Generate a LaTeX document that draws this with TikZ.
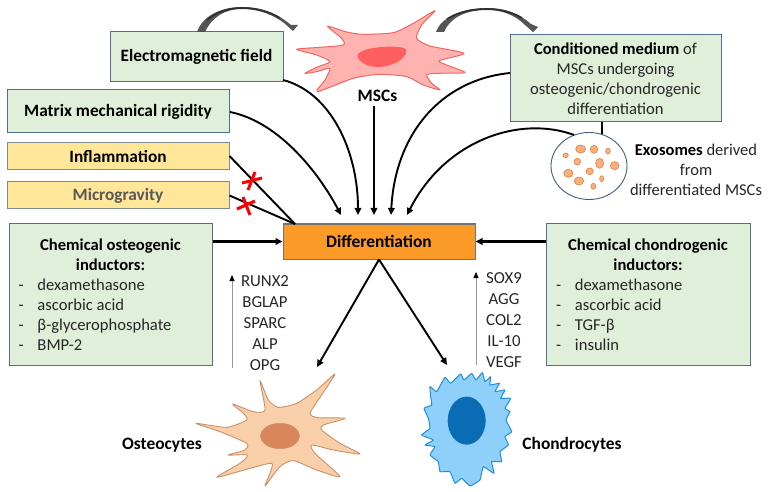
\documentclass[tikz,border=0pt]{standalone}
\usepackage{fontspec}
\setmainfont{Carlito}
\usetikzlibrary{arrows.meta,shapes.geometric}
\definecolor{boxgreen}{HTML}{E0EFD9}
\definecolor{boxedge}{HTML}{4F6F8C}
\definecolor{boxyellow}{HTML}{FFE699}
\definecolor{yellowedge}{HTML}{7F8C8D}
\definecolor{difforange}{HTML}{FB9A26}
\definecolor{inktext}{HTML}{262626}
\definecolor{mscbody}{HTML}{FFB3B0}
\definecolor{mscedge}{HTML}{F2665F}
\definecolor{mscnuc}{HTML}{FF5F5F}
\definecolor{ostbody}{HTML}{F8CFA8}
\definecolor{ostedge}{HTML}{C9916A}
\definecolor{ostnuc}{HTML}{D9875A}
\definecolor{chbody}{HTML}{8ED0FA}
\definecolor{chedge}{HTML}{1E90D8}
\definecolor{chnuc}{HTML}{0A6CB4}
\definecolor{vesfill}{HTML}{F6B183}
\definecolor{vesedge}{HTML}{ED7D31}
\definecolor{roundedge}{HTML}{44607A}
\definecolor{swoopdark}{HTML}{2E2E2E}
\definecolor{swoophead}{HTML}{555555}
\tikzset{
  x=1pt,y=-1pt,
  txt/.style={font=\fontsize{16.5}{20}\selectfont,text=inktext,align=center,inner sep=0pt},
  labelbold/.style={txt,font=\fontsize{17.4}{20}\selectfont\bfseries,text=black},
  greenbox/.style={draw=boxedge,line width=1pt,fill=boxgreen,inner sep=0pt,align=center,text=inktext,
    font=\fontsize{16.6}{20}\selectfont},
  titlebox/.style={greenbox,font=\fontsize{17.3}{20}\selectfont\bfseries,text=black},
  yellowbox/.style={draw=yellowedge,line width=1pt,fill=boxyellow,inner sep=0pt,align=center,
    font=\fontsize{17.3}{20}\selectfont\bfseries},
  flow/.style={draw=black,line width=1.9pt,-{Triangle[length=7pt,width=6.5pt]}},
  sideflow/.style={flow,line width=2.4pt},
  plainlink/.style={draw=black,line width=1.9pt},
  upmark/.style={draw=gray!80,line width=.9pt,-{Triangle[length=6pt,width=5pt,color=black]}},
  cross/.style={draw=red,line width=3pt},
  vesicle/.style={fill=vesfill,draw=vesedge,line width=.6pt},
}
\newcommand{\listline}[1]{\makebox[184pt][l]{\makebox[19pt][l]{-}#1}}
\newcommand{\boldpart}[1]{{\bfseries\color{black}#1}}
\begin{document}
\begin{tikzpicture}
\useasboundingbox (0,0) rectangle (769,492);

% Mesenchymal stem cell
\begin{scope}[shift={(280,10)},x=.3333pt,y=-.3333pt]
  \filldraw[fill=mscbody,draw=mscedge,line width=1pt,line join=round]
    plot[smooth cycle,tension=.4] coordinates {
      (143,49)(200,66)(250,73)(340,68)(400,40)(465,2)(425,45)(410,85)(450,108)(552,130)
      (478,152)(500,165)(555,188)(470,190)(440,195)(455,220)(480,240)(430,225)(380,200)(300,193)
      (220,205)(112,245)(135,210)(150,175)(110,185)(75,190)(110,172)(150,155)(110,135)(50,118)
      (120,112)(190,105)(185,85)};
  \fill[mscnuc] plot[smooth cycle,tension=.6] coordinates {
      (232,138)(262,118)(330,110)(378,118)(362,150)(310,170)(260,165)};
\end{scope}

% Osteocyte
\begin{scope}[shift={(190,370)},x=.3333pt,y=-.3333pt]
  \filldraw[fill=ostbody,draw=ostedge,line width=.9pt,line join=round]
    plot[smooth cycle,tension=.4] coordinates {
      (210,32)(235,90)(265,112)(320,100)(380,60)(435,12)(395,75)(360,130)(385,143)(465,145)
      (400,165)(395,180)(450,220)(510,252)(430,240)(365,225)(375,250)(450,320)(380,300)(310,272)
      (270,290)(225,348)(240,310)(245,280)(180,295)(80,322)(150,280)(172,255)(115,255)(165,240)
      (170,220)(90,185)(18,160)(110,172)(170,150)(160,130)(128,102)(190,125)(225,120)};
  \filldraw[fill=ostnuc,draw=ostedge,line width=.6pt] (270,198) ellipse [x radius=58,y radius=38];
\end{scope}

% Chondrocyte
\begin{scope}[shift={(400,330)},x=.3333pt,y=-.3333pt]
  \filldraw[fill=chbody,draw=chedge,line width=1pt,line join=round]
    plot[smooth cycle,tension=.2] coordinates {
      (90,170)(110,185)(135,142)(152,160)(182,132)(192,150)(215,130)(228,150)(247,128)(255,155)
      (272,140)(270,165)(298,160)(285,185)(315,180)(302,205)(332,205)(315,235)(330,245)(318,270)
      (335,305)(315,320)(325,345)(300,365)(305,395)(275,395)(282,430)(250,410)(240,450)(210,468)
      (185,445)(165,460)(150,425)(120,425)(115,395)(90,375)(105,350)(75,345)(100,330)(65,315)
      (90,295)(85,265)(72,235)(95,225)(92,200)};
  \fill[chnuc] (200,272) ellipse [x radius=57,y radius=72];
\end{scope}

% Stimulus and outcome boxes
\node[titlebox,minimum width=173pt,minimum height=50pt] (em) at (196.5,57) {Electromagnetic field};
\node[titlebox,minimum width=222pt,minimum height=43pt] (matrix) at (118,111.5) {Matrix mechanical rigidity};
\node[yellowbox,minimum width=222pt,minimum height=27pt,text=black] (infl) at (118,156) {Inflammation};
\node[yellowbox,minimum width=222pt,minimum height=27pt,text=black!65] (micro) at (118,195.5) {Microgravity};
\node[greenbox,minimum width=203pt,minimum height=142pt] (osteo) at (110.5,294.5)
  {\boldpart{Chemical osteogenic}\\\boldpart{inductors:}\\
   \listline{dexamethasone}\\\listline{ascorbic acid}\\\listline{β-glycerophosphate}\\\listline{BMP-2}};
\node[greenbox,minimum width=204pt,minimum height=142pt] (chondro) at (648,294.5)
  {\boldpart{Chemical chondrogenic}\\\boldpart{inductors:}\\
   \listline{dexamethasone}\\\listline{ascorbic acid}\\\listline{TGF-β}\\\listline{insulin}};
\node[greenbox,minimum width=211pt,minimum height=87pt] (cond) at (615.5,78.5)
  {\boldpart{Conditioned medium} of\\MSCs undergoing\\osteogenic/chondrogenic\\differentiation};
\node[draw=gray!90!black,line width=1pt,fill=difforange,minimum width=192pt,minimum height=35pt,inner sep=0pt,
  font=\fontsize{17.4}{20}\selectfont\bfseries,text=black] (diff) at (379,241.5) {Differentiation};

% Exosome vesicle
\node[draw=roundedge,fill=white,line width=.9pt,ellipse,inner sep=0pt,minimum width=76pt,minimum height=67pt] (exo) at (589,166) {};
\begin{scope}[shift={(384,0)},x=.3333pt,y=-.3333pt]
  \foreach \cx/\cy/\rx/\ry in {590/447/15/12,630/448/11/12,672/453/7/9,545/466/8/7,580/485/10/10,
      647/490/12/15,692/497/13/12,553/520/14/12,617/514/11/10,585/543/14/12,653/536/6/9,628/559/7/9}
    \draw[vesicle] (\cx,\cy) ellipse [x radius=\rx,y radius=\ry];
\end{scope}

% Labels
\node[labelbold] (msclabel) at (377.5,96) {MSCs};
\node[txt] (exolabel) at (696,170) {\boldpart{Exosomes} derived\\from\\differentiated MSCs};
\node[labelbold] (ostlabel) at (162,445) {Osteocytes};
\node[labelbold] (chlabel) at (572,445) {Chondrocytes};
\node[txt,font=\fontsize{16.8}{21}\selectfont] (ostgenes) at (265,323) {RUNX2\\BGLAP\\SPARC\\ALP\\OPG};
\node[txt,font=\fontsize{16.8}{21}\selectfont] (chgenes) at (504,320) {SOX9\\AGG\\COL2\\IL-10\\VEGF};

% Free ends of the connectors
\coordinate (emend) at (358,215);
\coordinate (matend) at (341,215);
\coordinate (mscstart) at (374,106);
\coordinate (mscend) at (374,215);
\coordinate (condend) at (391,215);
\coordinate (exoend) at (407,215);
\coordinate (emstart) at (283,80);
\coordinate (matstart) at (230,112);
\coordinate (condstart) at (510,73);
\coordinate (exostart) at (574,135);
\coordinate (joint) at (295,224);
\coordinate (ostcell) at (317,367);
\coordinate (chcell) at (447,365);
\coordinate (condfoot) at (602,122);
\coordinate (exotop) at (602,134);

% Connectors into and out of the differentiation box
\draw[flow] (emstart) .. controls (330,92) and (358,150) .. (emend);
\draw[flow] (matstart) .. controls (280,122) and (320,175) .. (matend);
\draw[flow] (mscstart) -- (mscend);
\draw[flow] (condstart) .. controls (440,80) and (395,135) .. (condend);
\draw[flow] (exostart) .. controls (520,115) and (445,140) .. (exoend);
\draw[plainlink] (infl.east) -- (joint);
\draw[plainlink] (micro.east) -- (joint);
\draw[plainlink] (condfoot) -- (exotop);
\draw[sideflow] (osteo.east |- diff.west) -- (diff.west);
\draw[sideflow] (chondro.west |- diff.east) -- (diff.east);
\draw[flow] (diff.south) -- (ostcell);
\draw[flow] (diff.south) -- (chcell);

% Blocked pathways
\draw[cross] (242,183) -- (262,178);
\draw[cross] (255,172) -- (248,190);
\draw[cross] (237,209) -- (255,201);
\draw[cross] (243,197) -- (250,215);

% Expression arrows beside the marker lists
\coordinate (ostup0) at (232,368);
\coordinate (ostup1) at (232,275);
\coordinate (chup0) at (476,365);
\coordinate (chup1) at (476,272);
\draw[upmark] (ostup0) -- (ostup1);
\draw[upmark] (chup0) -- (chup1);

% Secretion swoops above the cell, wide at the root and thin along the crown
\fill[swoophead] (197,32) .. controls (203,15) and (222,7) .. (242,7)
  .. controls (262,7) and (278,14) .. (291,25)
  -- (298,25) -- (293,31) -- (284,23)
  .. controls (275,16) and (260,9) .. (242,9)
  .. controls (225,9) and (212,17) .. (205,32) -- cycle;
\draw[swoopdark,line width=1.6pt] (207,20) .. controls (218,11) and (230,8) .. (242,8)
  .. controls (256,8) and (268,11) .. (280,18);
\fill[swoophead] (436,32) .. controls (441,17) and (463,8) .. (487,8)
  .. controls (505,8) and (520,14) .. (531,24)
  -- (538,27) -- (533,32) -- (525,25)
  .. controls (515,15) and (502,10) .. (487,10)
  .. controls (465,10) and (450,18) .. (444,32) -- cycle;
\draw[swoopdark,line width=1.6pt] (447,19) .. controls (458,12) and (472,9) .. (487,9)
  .. controls (500,9) and (512,12) .. (522,18);
\end{tikzpicture}
\end{document}
